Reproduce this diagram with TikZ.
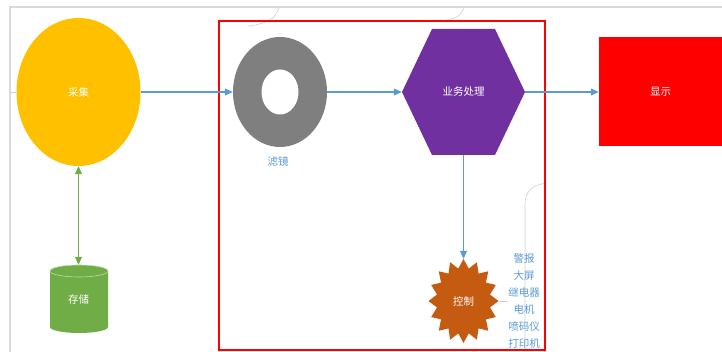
\documentclass[tikz,border=0pt]{standalone}
\usepackage{fontspec}
\newfontfamily\cjk{Noto Sans CJK SC}
\usetikzlibrary{shapes.geometric, arrows.meta}
\definecolor{cyellow}{HTML}{FFC000}
\definecolor{cgray}{HTML}{7F7F7F}
\definecolor{cpurple}{HTML}{7030A0}
\definecolor{cred}{HTML}{FF0000}
\definecolor{cgreen}{HTML}{70AD47}
\definecolor{corange}{HTML}{C55A11}
\definecolor{cblue}{HTML}{5B9BD5}
\definecolor{cframe}{HTML}{D9D9D9}
\definecolor{lgray}{HTML}{D0D0D0}
\begin{document}
\begin{tikzpicture}[x=1pt,y=-1pt,
  font=\cjk\fontsize{10.5}{12}\selectfont,
  wtext/.style={text=white, inner sep=0pt},
  flow/.style={draw=cblue, line width=1.1pt, -{Triangle[length=8pt,width=7pt]}},
  faint/.style={draw=lgray, line width=0.6pt},
  btext/.style={text=cblue, font=\cjk\fontsize{10.5}{17}\selectfont}]
\useasboundingbox (0,0) rectangle (722,352);
\fill[white] (0,0) rectangle (722,352);
% frame
\draw[cframe, line width=1.5pt] (10,352) -- (10,7) -- (722,7);
% faint curves
\draw[faint] (248,26) .. controls (265,24) and (275,20) .. (279,8);
\draw[faint] (447,20) .. controls (458,18) and (462,14) .. (464,8);
\draw[faint] (547,183) .. controls (531,185) and (525,192) .. (525,205) -- (525,352);
% red group rectangle
\draw[cred, line width=1.2pt] (219,21) rectangle (545,350);
% ellipse 采集
\node[ellipse, fill=cyellow, minimum width=124, minimum height=148, wtext] (cj) at (78.5,92) {采集};
% donut
\node[ellipse, fill=cgray, minimum width=94, minimum height=110, inner sep=0pt] (lj) at (280,92) {};
\fill[white] (lj.center) ellipse [x radius=18.5, y radius=22.5];
\node[btext] (ljlabel) at (278,162) {滤镜};
% hexagon
\fill[cpurple] (402,92) -- (432,29) -- (495,29) -- (525,92) -- (495,155) -- (432,155) -- cycle;
\node[wtext, minimum width=123, minimum height=126] (biz) at (463.5,92) {业务处理};
% display
\node[fill=cred, minimum width=123, minimum height=109, wtext] (xs) at (660.5,92) {显示};
% cylinder
\fill[cgreen] (50,271) -- (50,327) arc[start angle=180, end angle=0, x radius=29, y radius=6]
  -- (108,271) arc[start angle=0, end angle=-180, x radius=29, y radius=6] -- cycle;
\draw[white!55!cgreen, line width=0.6pt] (79,271) ellipse [x radius=29, y radius=6];
\node[wtext, minimum width=58, minimum height=68] (store) at (78.5,299) {存储};
% starburst
\fill[corange] plot[samples=33, domain=0:32, variable=\k]
  ({463.5+ifthenelse(mod(\k,2)==0,35,27)*cos(90+\k*11.25)},
   {301-ifthenelse(mod(\k,2)==0,42,33)*sin(90+\k*11.25)}) -- cycle;
\node[wtext, minimum width=70, minimum height=84] (ctrl) at (463.5,301) {控制};
% list
\node[btext, align=center, inner sep=0pt] (devs) at (524,301) {警报\\大屏\\继电器\\电机\\喷码仪\\打印机};
% connectors
\coordinate (inL) at (10,92);
\draw[faint] (inL) -- (cj.west);
\draw[faint] (ctrl.east) -- (devs.west);
\draw[flow] (cj.east) -- (lj.west);
\draw[flow] (lj.east) -- (biz.west);
\draw[flow] (biz.east) -- (xs.west);
\draw[flow] (biz.south) -- (ctrl.north);
\draw[cgreen, line width=1.1pt, {Triangle[length=8pt,width=7pt]}-{Triangle[length=8pt,width=7pt]}] (cj.south) -- (store.north);
\end{tikzpicture}
\end{document}
